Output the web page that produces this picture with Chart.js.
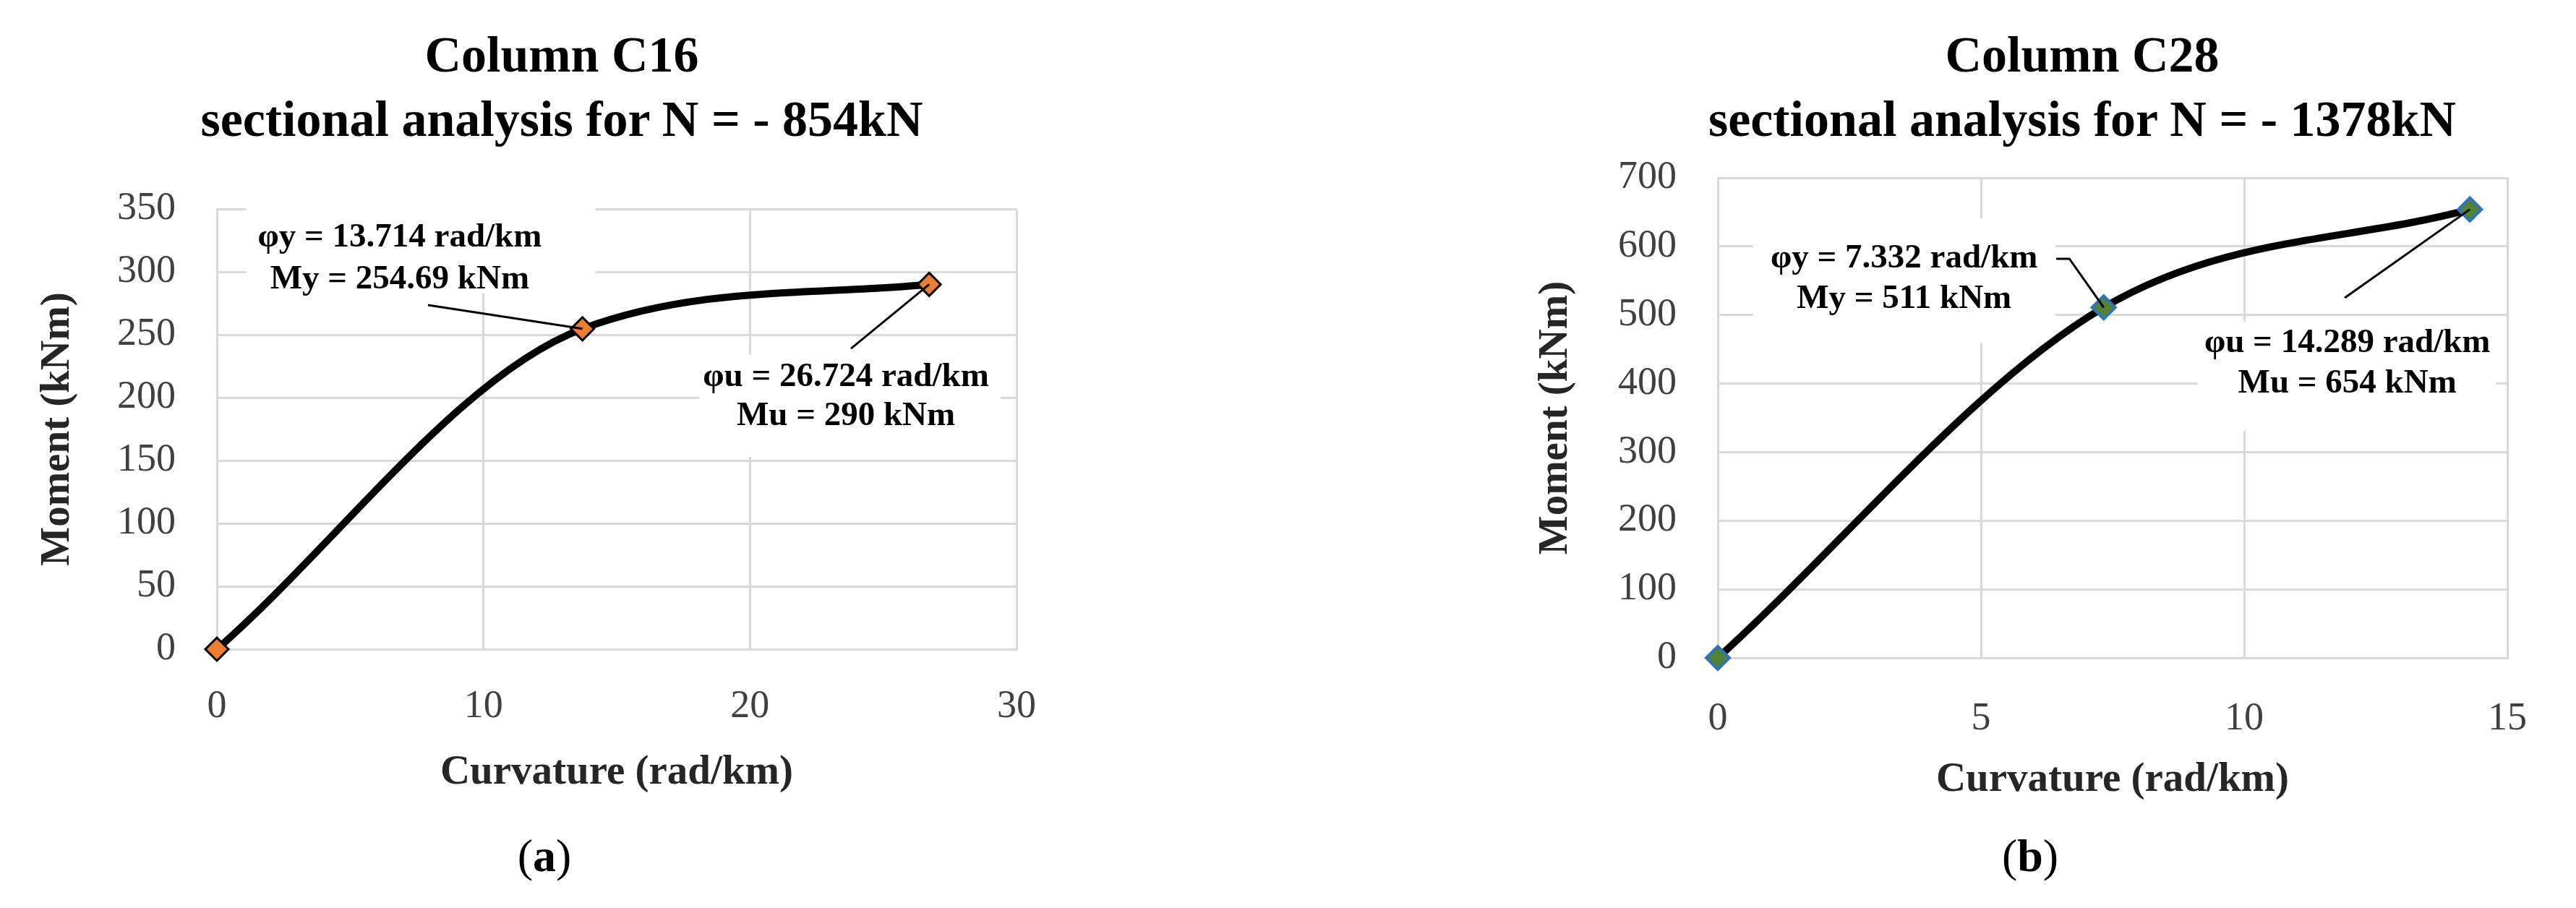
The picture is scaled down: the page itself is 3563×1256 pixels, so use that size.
<!DOCTYPE html>
<html>
<head>
<meta charset="utf-8">
<script src="https://cdn.jsdelivr.net/npm/chart.js@4.4.0/dist/chart.umd.min.js"></script>
<style>
  html, body { margin: 0; padding: 0; background: #fff; overflow: hidden; }
  body { width: 3563px; height: 1256px; position: relative; font-family: "Liberation Serif", serif; }
  canvas { position: absolute; top: 0; }
  .ttl { position: absolute; top: 31px; text-align: center; font-weight: bold; font-size: 70px; line-height: 89px; color: #000; white-space: nowrap; }
  .cap { position: absolute; top: 1149px; width: 200px; text-align: center; font-size: 64px; line-height: 70px; color: #000; }
</style>
</head>
<body>
<div class="ttl" style="left:0;width:1554px">Column C16<br>sectional analysis for N = - 854kN</div>
<div class="ttl" style="left:2280px;width:1200px">Column C28<br>sectional analysis for N = - 1378kN</div>
<div class="cap" style="left:653px">(<b>a</b>)</div>
<div class="cap" style="left:2708px">(<b>b</b>)</div>

<canvas id="c16" width="1554" height="1256" style="left:0;width:1554px;height:1256px"></canvas>
<canvas id="c28" width="1463" height="1256" style="left:2100px;width:1463px;height:1256px"></canvas>

<script>
// column C16, N = -854 kN
const curvC16 = [0, 13.714, 26.724];
const momC16 = [0, 254.69, 290];
// column C28, N = -1378 kN
const curvC28 = [0, 7.332, 14.289];
const momC28 = [0, 511, 654];

// axis ticks [min, max, step]
const xTicksC16 = [0, 30, 10];
const yTicksC16 = [0, 350, 50];
const xTicksC28 = [0, 15, 5];
const yTicksC28 = [0, 700, 100];

const FONT = '"Liberation Serif", serif';

// callout text boxes + leader lines, given in data units
function callouts(items) {
  return {
    id: 'callouts',
    beforeDatasetsDraw(chart) {
      const { ctx, scales: { x, y } } = chart;
      ctx.save();
      items.forEach((c) => {
        const l = x.getPixelForValue(c.box[0]), r = x.getPixelForValue(c.box[1]);
        const b = y.getPixelForValue(c.box[2]), t = y.getPixelForValue(c.box[3]);
        ctx.fillStyle = '#fff';
        ctx.fillRect(l, t, r - l, b - t);
        ctx.fillStyle = '#000';
        ctx.font = 'bold 47px ' + FONT;
        ctx.textAlign = 'center';
        ctx.textBaseline = 'middle';
        c.lines.forEach((txt, i) => {
          ctx.fillText(txt, x.getPixelForValue(c.at[0]), y.getPixelForValue(c.at[i + 1]));
        });
      });
      ctx.restore();
    },
    afterDatasetsDraw(chart) {
      const { ctx, scales: { x, y } } = chart;
      ctx.save();
      ctx.strokeStyle = '#000';
      ctx.lineWidth = 3;
      items.forEach((c) => {
        ctx.beginPath();
        c.leader.forEach((p, i) => {
          const px = x.getPixelForValue(p[0]), py = y.getPixelForValue(p[1]);
          if (i === 0) ctx.moveTo(px, py); else ctx.lineTo(px, py);
        });
        ctx.stroke();
      });
      ctx.restore();
    }
  };
}

function makeChart(id, curv, mom, xt, yt, fill, edge, edgeW, geo, items) {
  new Chart(document.getElementById(id), {
    type: 'line',
    data: {
      datasets: [{
        data: curv.map((v, i) => ({ x: v, y: mom[i] })),
        borderColor: '#000',
        borderWidth: 10,
        cubicInterpolationMode: 'monotone',
        pointStyle: 'rectRot',
        pointRadius: 16,
        pointBackgroundColor: fill,
        pointBorderColor: edge,
        pointBorderWidth: edgeW,
        clip: false
      }]
    },
    options: {
      responsive: false,
      animation: false,
      devicePixelRatio: 1,
      layout: { padding: { left: 0, right: geo.right, top: geo.top, bottom: 0 } },
      plugins: { legend: { display: false }, title: { display: false }, tooltip: { enabled: false } },
      scales: {
        x: {
          type: 'linear', min: xt[0], max: xt[1],
          ticks: { stepSize: xt[2], padding: geo.xPad, autoSkip: false, maxRotation: 0,
                   font: { family: FONT, size: 54 }, color: '#404040' },
          grid: { color: '#d9d9d9', lineWidth: 3, drawTicks: false },
          border: { color: '#d9d9d9', width: 3 },
          title: { display: true, text: 'Curvature (rad/km)', color: '#262626',
                   font: { family: FONT, size: 57, weight: 'bold' }, padding: { top: 0, bottom: geo.xTitle } },
          afterFit: (s) => { s.height = geo.xH; }
        },
        y: {
          type: 'linear', min: yt[0], max: yt[1],
          ticks: { stepSize: yt[2], padding: 57, font: { family: FONT, size: 54 }, color: '#404040' },
          grid: { color: '#d9d9d9', lineWidth: 3, drawTicks: false },
          border: { color: '#d9d9d9', width: 3 },
          title: { display: true, text: 'Moment (kNm)', color: '#262626',
                   font: { family: FONT, size: 57, weight: 'bold' }, padding: { top: geo.yTitle, bottom: 0 } },
          afterFit: (s) => { s.width = geo.yW; }
        }
      }
    },
    plugins: [callouts(items)]
  });
}

makeChart('c16', curvC16, momC16, xTicksC16, yTicksC16, '#ED7D31', '#000', 3,
  { right: 148, top: 289, xH: 358, xPad: 47, xTitle: 153, yW: 300, yTitle: 46 },
  [
    { box: [1.1, 14.2, 283, 352], at: [6.86, 327, 294],
      lines: ['φy = ' + curvC16[1] + ' rad/km', 'My = ' + momC16[1] + ' kNm'],
      leader: [[7.92, 273.6], [curvC16[1], momC16[1]]] },
    { box: [18.1, 29.4, 153, 234], at: [23.6, 216, 185],
      lines: ['φu = ' + curvC16[2] + ' rad/km', 'Mu = ' + momC16[2] + ' kNm'],
      leader: [[23.79, 239], [curvC16[2], momC16[2]]] }
  ]);

makeChart('c28', curvC28, momC28, xTicksC28, yTicksC28, '#548235', '#2E75B6', 4,
  { right: 95, top: 246, xH: 346, xPad: 52, xTitle: 143, yW: 276, yTitle: 18 },
  [
    { box: [0.67, 6.41, 459, 641], at: [3.54, 582, 523],
      lines: ['φy = ' + curvC28[1] + ' rad/km', 'My = ' + momC28[1] + ' kNm'],
      leader: [[6.43, 582], [6.68, 582], [curvC28[1], momC28[1]]] },
    { box: [9.12, 14.78, 331, 490], at: [11.96, 459, 400],
      lines: ['φu = ' + curvC28[2] + ' rad/km', 'Mu = ' + momC28[2] + ' kNm'],
      leader: [[11.91, 525], [curvC28[2], momC28[2]]] }
  ]);
</script>
</body>
</html>
